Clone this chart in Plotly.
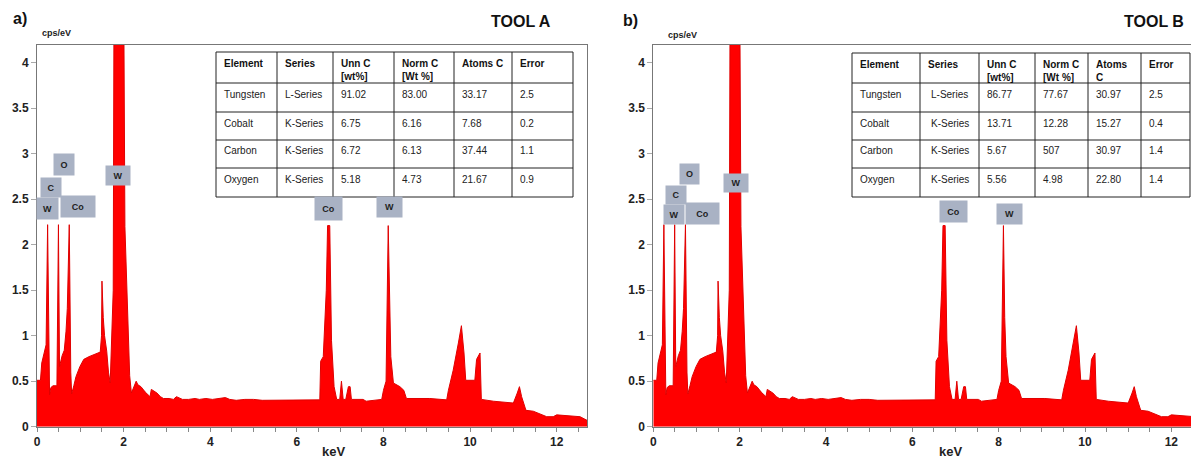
import plotly.graph_objects as go

# ---------------- data ----------------
kev = [0.00, 0.08, 0.11, 0.15, 0.19, 0.21, 0.245, 0.27, 0.29, 0.32, 0.37, 0.46, 0.495, 0.52, 0.58,
       0.63, 0.67, 0.70, 0.745, 0.78, 0.80, 0.85, 0.90, 0.99, 1.08, 1.20, 1.35, 1.46, 1.49, 1.50,
       1.53, 1.56, 1.61, 1.65, 1.69, 1.72, 1.76, 1.78, 2.00, 2.03, 2.07, 2.14, 2.18, 2.23, 2.29,
       2.33, 2.40, 2.50, 2.57, 2.61, 2.64, 2.70, 2.77, 2.85, 2.92, 3.05, 3.15, 3.22, 3.28, 3.36,
       3.50, 3.65, 3.75, 3.90, 4.05, 4.20, 4.35, 4.45, 4.60, 4.80, 5.00, 5.20, 5.40, 5.60, 5.90,
       6.34, 6.53, 6.55, 6.61, 6.68, 6.71, 6.76, 6.78, 6.80, 6.86, 6.92, 6.99, 7.03, 7.07, 7.13,
       7.19, 7.23, 7.26, 7.53, 7.60, 7.96, 8.00, 8.06, 8.11, 8.14, 8.17, 8.23, 8.38, 8.47, 8.53,
       9.07, 9.46, 9.50, 9.61, 9.73, 9.80, 9.86, 9.90, 10.11, 10.15, 10.23, 10.26, 10.54, 11.00,
       11.09, 11.14, 11.19, 11.29, 11.46, 11.77, 11.92, 12.00, 12.54, 12.70]
cps_a = [0.51, 0.51, 0.70, 0.78, 0.86, 0.90, 2.22, 0.60, 0.35, 0.43, 0.45, 0.45, 2.22, 0.66, 0.78,
         0.84, 1.05, 1.30, 2.22, 0.60, 0.36, 0.45, 0.55, 0.66, 0.74, 0.77, 0.80, 0.82, 1.00, 1.60,
         1.20, 1.00, 0.83, 0.60, 0.48, 0.90, 1.50, 5.00, 5.00, 2.20, 1.60, 0.56, 0.37, 0.43, 0.50,
         0.46, 0.44, 0.38, 0.35, 0.33, 0.41, 0.39, 0.37, 0.33, 0.31, 0.31, 0.30, 0.33, 0.32, 0.30,
         0.30, 0.31, 0.30, 0.31, 0.30, 0.31, 0.32, 0.30, 0.29, 0.30, 0.30, 0.29, 0.29, 0.295, 0.29,
         0.295, 0.295, 0.72, 0.77, 1.50, 2.21, 2.21, 1.40, 0.95, 0.44, 0.30, 0.30, 0.50, 0.30, 0.30,
         0.44, 0.44, 0.30, 0.30, 0.28, 0.30, 0.40, 0.50, 2.21, 1.20, 0.77, 0.48, 0.44, 0.40, 0.31,
         0.31, 0.295, 0.40, 0.62, 0.92, 1.11, 0.81, 0.51, 0.51, 0.74, 0.81, 0.30, 0.28, 0.26,
         0.37, 0.44, 0.33, 0.18, 0.17, 0.11, 0.11, 0.13, 0.11, 0.07]
cps_b = [0.51, 0.51, 0.70, 0.78, 0.86, 0.90, 2.22, 0.60, 0.35, 0.43, 0.45, 0.45, 2.22, 0.66, 0.78,
         0.84, 1.05, 1.30, 2.22, 0.60, 0.36, 0.45, 0.55, 0.66, 0.74, 0.77, 0.80, 0.82, 1.00, 1.60,
         1.20, 1.00, 0.83, 0.60, 0.48, 0.90, 1.50, 5.00, 5.00, 2.20, 1.60, 0.56, 0.37, 0.43, 0.50,
         0.46, 0.44, 0.38, 0.35, 0.33, 0.41, 0.39, 0.37, 0.33, 0.31, 0.31, 0.30, 0.33, 0.32, 0.30,
         0.30, 0.31, 0.30, 0.31, 0.30, 0.31, 0.32, 0.30, 0.29, 0.30, 0.30, 0.29, 0.29, 0.295, 0.29,
         0.295, 0.295, 0.72, 0.77, 1.50, 2.21, 2.21, 1.40, 0.95, 0.44, 0.30, 0.30, 0.50, 0.30, 0.30,
         0.44, 0.44, 0.30, 0.30, 0.28, 0.30, 0.40, 0.50, 2.21, 1.20, 0.77, 0.48, 0.44, 0.40, 0.31,
         0.31, 0.295, 0.40, 0.62, 0.92, 1.11, 0.81, 0.51, 0.51, 0.74, 0.81, 0.30, 0.28, 0.26,
         0.37, 0.44, 0.33, 0.18, 0.17, 0.11, 0.11, 0.13, 0.11, 0.07]

x_tickvals = [i * 0.5 for i in range(26)]
x_ticktext = [str(int(v)) if v % 2 == 0 else "" for v in x_tickvals]
y_tickvals = [0, 0.5, 1, 1.5, 2, 2.5, 3, 3.5, 4]
y_ticktext = ["0", "0.5", "1", "1.5", "2", "2.5", "3", "3.5", "4"]

# peak labels: (text, keV, cps, width px, height px)
labels_a = [("W", 0.25, 2.40, 19, 19), ("C", 0.32, 2.63, 18, 17), ("O", 0.62, 2.88, 18, 19),
            ("Co", 0.95, 2.42, 32, 19), ("W", 1.87, 2.76, 22, 17), ("Co", 6.73, 2.40, 25, 21),
            ("W", 8.14, 2.41, 23, 18)]
labels_b = [("W", 0.48, 2.33, 18, 17), ("C", 0.53, 2.55, 18, 16), ("O", 0.84, 2.78, 17, 18),
            ("Co", 1.14, 2.34, 31, 19), ("W", 1.92, 2.68, 22, 16), ("Co", 6.95, 2.36, 25, 19),
            ("W", 8.25, 2.34, 23, 18)]

table_header_a = ["Element", "Series", "Unn C<br>[wt%]", "Norm C<br>[Wt %]", "Atoms C", "Error"]
elements = ["Tungsten", "Cobalt", "Carbon", "Oxygen"]
series = ["L-Series", "K-Series", "K-Series", "K-Series"]
unn_a = ["91.02", "6.75", "6.72", "5.18"]
norm_a = ["83.00", "6.16", "6.13", "4.73"]
atoms_a = ["33.17", "7.68", "37.44", "21.67"]
error_a = ["2.5", "0.2", "1.1", "0.9"]

table_header_b = ["Element", "Series", "Unn C<br>[wt%]", "Norm C<br>[Wt %]", "Atoms<br>C", "Error"]
unn_b = ["86.77", "13.71", "5.67", "5.56"]
norm_b = ["77.67", "12.28", "507", "4.98"]
atoms_b = ["30.97", "15.27", "30.97", "22.80"]
error_b = ["2.5", "0.4", "1.4", "1.4"]

# ---------------- figure ----------------
WIN_W, WIN_H = 1199, 459
OFF = 8  # default page body margin
W, H = WIN_W - OFF, WIN_H - OFF
FONT = "Arial, Liberation Sans, sans-serif"


def px_x(p):
    return (p - OFF) / W


def px_y(p):
    return (WIN_H - p) / H


fig = go.Figure()

fig.add_trace(go.Scatter(x=kev, y=cps_a, mode="lines", fill="tozeroy",
                         fillcolor="#ff0000", line=dict(color="#e00000", width=1),
                         xaxis="x", yaxis="y", showlegend=False, hoverinfo="skip"))
fig.add_trace(go.Scatter(x=kev, y=cps_b, mode="lines", fill="tozeroy",
                         fillcolor="#ff0000", line=dict(color="#e00000", width=1),
                         xaxis="x2", yaxis="y2", showlegend=False, hoverinfo="skip"))

ydom = [px_y(426.7), px_y(44.5)]

xaxis_common = dict(tickmode="array", tickvals=x_tickvals, ticktext=x_ticktext,
                    ticks="outside", ticklen=4, tickcolor="#888", showline=True,
                    linecolor="#777", linewidth=1, showgrid=False, zeroline=False,
                    tickfont=dict(family=FONT, size=12, color="#222", weight="bold"),
                    mirror=True, automargin=False)
yaxis_common = dict(tickmode="array", tickvals=y_tickvals, ticktext=y_ticktext,
                    ticks="outside", ticklen=5, tickcolor="#aaa", showline=True,
                    linecolor="#777", linewidth=1, showgrid=False, zeroline=False,
                    tickfont=dict(family=FONT, size=12, color="#222", weight="bold"),
                    mirror=True, range=[0, 4.2], automargin=False)

fig.update_layout(
    width=W, height=H, margin=dict(l=0, r=0, t=0, b=0, autoexpand=False),
    paper_bgcolor="white", plot_bgcolor="white",
    xaxis=dict(domain=[px_x(37), px_x(587)], range=[0, 12.70], anchor="y", **xaxis_common),
    yaxis=dict(domain=ydom, anchor="x", **yaxis_common),
    xaxis2=dict(domain=[px_x(653.3), 1.0], range=[0, 12.64], anchor="y2", **xaxis_common),
    yaxis2=dict(domain=ydom, anchor="x2", **yaxis_common),
)

ann = []
shapes = []
for txt, xv, yv, w, h in labels_a:
    ann.append(dict(text=txt, x=xv, y=yv, xref="x", yref="y", showarrow=False,
                    bgcolor="#a9b2c4", width=w, height=h,
                    font=dict(family=FONT, size=9, color="#222", weight="bold")))
for txt, xv, yv, w, h in labels_b:
    ann.append(dict(text=txt, x=xv, y=yv, xref="x2", yref="y2", showarrow=False,
                    bgcolor="#a9b2c4", width=w, height=h,
                    font=dict(family=FONT, size=9, color="#222", weight="bold")))

big = dict(family=FONT, size=16, color="#111", weight="bold")
small = dict(family=FONT, size=9, color="#222", weight="bold")
kev_font = dict(family=FONT, size=13, color="#222", weight="bold")
ann += [
    dict(text="a)", x=px_x(11), y=px_y(18), xref="paper", yref="paper", xanchor="left",
         yanchor="middle", showarrow=False, font=big),
    dict(text="b)", x=px_x(621), y=px_y(21), xref="paper", yref="paper", xanchor="left",
         yanchor="middle", showarrow=False, font=big),
    dict(text="cps/eV", x=px_x(40), y=px_y(33), xref="paper", yref="paper", xanchor="left",
         yanchor="middle", showarrow=False, font=small),
    dict(text="cps/eV", x=px_x(666), y=px_y(35), xref="paper", yref="paper", xanchor="left",
         yanchor="middle", showarrow=False, font=small),
    dict(text="TOOL A", x=px_x(553), y=px_y(22), xref="paper", yref="paper", xanchor="right",
         yanchor="middle", showarrow=False, font=big),
    dict(text="TOOL B", x=px_x(1186), y=px_y(22), xref="paper", yref="paper", xanchor="right",
         yanchor="middle", showarrow=False, font=big),
    dict(text="keV", x=6.85, y=px_y(451), xref="x", yref="paper", xanchor="center",
         yanchor="middle", showarrow=False, font=kev_font),
    dict(text="keV", x=6.88, y=px_y(451), xref="x2", yref="paper", xanchor="center",
         yanchor="middle", showarrow=False, font=kev_font),
]

cell_font = dict(family=FONT, size=10, color="#222")
head_font = dict(family=FONT, size=10, color="#111", weight="bold")


def add_table(col_edges, row_edges, header, columns, aligns):
    for xe in col_edges:
        shapes.append(dict(type="line", xref="paper", yref="paper", x0=px_x(xe), x1=px_x(xe),
                           y0=px_y(row_edges[0]), y1=px_y(row_edges[-1]),
                           line=dict(color="#222", width=1)))
    for ye in row_edges:
        shapes.append(dict(type="line", xref="paper", yref="paper", x0=px_x(col_edges[0]),
                           x1=px_x(col_edges[-1]), y0=px_y(ye), y1=px_y(ye),
                           line=dict(color="#222", width=1)))
    for ci, head in enumerate(header):
        left, right = col_edges[ci], col_edges[ci + 1]
        ann.append(dict(text=head, x=px_x(left + 6), y=px_y(row_edges[0] + 4), xref="paper",
                        yref="paper", xanchor="left", yanchor="top", align="left",
                        showarrow=False, font=head_font))
        for ri, val in enumerate(columns[ci]):
            top = row_edges[ri + 1]
            if aligns[ci] == "center":
                xa, xx = "center", (left + right) / 2
            else:
                xa, xx = "left", left + 6
            ann.append(dict(text=val, x=px_x(xx), y=px_y(top + 11), xref="paper",
                            yref="paper", xanchor=xa, yanchor="middle", showarrow=False,
                            font=cell_font))


add_table([216, 277, 333, 394, 454, 512, 573], [52, 83, 112, 140, 168, 197],
          table_header_a, [elements, series, unn_a, norm_a, atoms_a, error_a],
          ["left"] * 6)
add_table([852, 920, 979, 1035, 1088, 1141, 1190], [53, 83, 112, 140, 168, 197],
          table_header_b, [elements, series, unn_b, norm_b, atoms_b, error_b],
          ["left", "center", "left", "left", "left", "left"])

fig.update_layout(annotations=ann, shapes=shapes)

fig.write_html("out.html")
